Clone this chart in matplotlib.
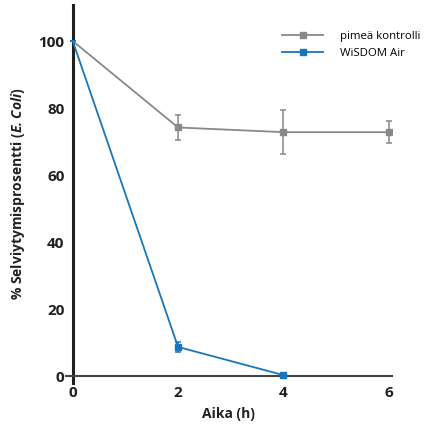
import matplotlib
matplotlib.use("Agg")
import matplotlib.pyplot as plt
from matplotlib.lines import Line2D

hours = [0, 2, 4, 6]
control = [100, 74.2, 72.8, 72.8]
control_err = [0, 3.8, 6.6, 3.3]
wisdom_hours = [0, 2, 4]
wisdom = [100, 8.7, 0.3]
wisdom_err = [0, 1.5, 0.2]
labels = ["pimeä kontrolli", "WiSDOM Air"]

plt.rcParams['font.family'] = ['Open Sans', 'DejaVu Sans']
plt.rcParams['mathtext.fontset'] = 'custom'
plt.rcParams['mathtext.bfit'] = 'Open Sans:bold:italic'
plt.rcParams['mathtext.bf'] = 'Open Sans:bold'

fig = plt.figure(figsize=(4.25, 4.3), dpi=100)
ax = fig.add_axes([0.155, 0.109, 0.767, 0.879])

gray = '#888888'
blue = '#1b75bb'
ax.errorbar(hours, control, yerr=control_err, color=gray, lw=1.3, marker='s',
            markersize=5, markevery=[1, 2, 3], capsize=2.3, elinewidth=1.1,
            capthick=1.1, zorder=3)
ax.errorbar(wisdom_hours, wisdom, yerr=wisdom_err, color=blue, lw=1.3, marker='s',
            markersize=5, markevery=[1, 2], capsize=2.3, elinewidth=1.1,
            capthick=1.1, zorder=4)

ax.set_xlim(-0.13, 6.06)
ax.set_ylim(-2.1, 110.7)
ax.spines['top'].set_visible(False)
ax.spines['right'].set_visible(False)
ax.spines['left'].set_position(('data', 0))
ax.spines['left'].set_linewidth(2.2)
ax.spines['left'].set_color('#231f20')
ax.spines['bottom'].set_position(('data', 0))
ax.spines['bottom'].set_linewidth(1.5)
ax.spines['bottom'].set_color('#444444')
ax.set_xticks([0, 2, 4, 6])
ax.set_yticks([0, 20, 40, 60, 80, 100])
ax.tick_params(length=0, labelsize=11, colors='#231f20')
ax.tick_params(axis='x', pad=7)
ax.tick_params(axis='y', pad=6)
for t in ax.get_xticklabels() + ax.get_yticklabels():
    t.set_fontweight('bold')
ax.set_xlabel('Aika (h)', fontsize=10, fontweight='bold', color='#231f20', labelpad=5)
ax.set_ylabel(r'% Selviytymisprosentti ($\mathbfit{E.Coli}$)', fontsize=10,
              fontweight='bold', color='#231f20', labelpad=8)

handles = [Line2D([], [], color=gray, lw=1.3, marker='s', markersize=5),
           Line2D([], [], color=blue, lw=1.3, marker='s', markersize=5)]
leg = ax.legend(handles, labels, loc='upper right', bbox_to_anchor=(1.12, 0.96),
                frameon=False, fontsize=8.2, handlelength=3.6, handletextpad=1.5,
                labelspacing=0.6)

fig.savefig('out.png', dpi=100)
